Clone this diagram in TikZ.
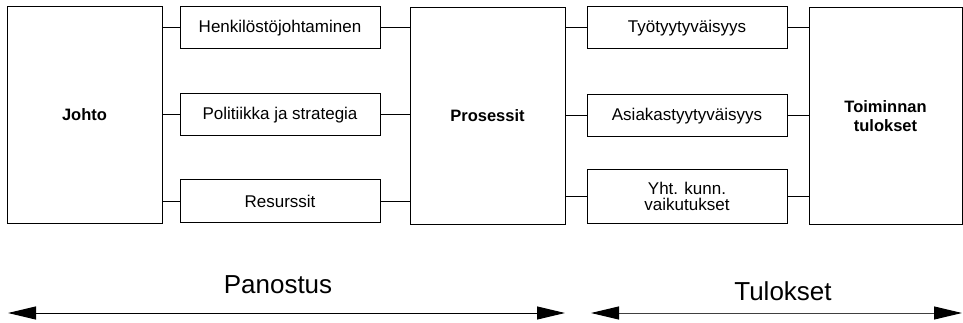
\documentclass[tikz,border=0pt]{standalone}
\usepackage{fontspec}
\setmainfont{Liberation Sans}
\usetikzlibrary{arrows.meta}
\begin{document}
\begin{tikzpicture}[x=1pt,y=-1pt,
  box/.style={draw, line width=1pt, fill=white, align=center, inner sep=0pt,
    font=\fontsize{17}{16}\selectfont},
  bigbox/.style={box, minimum width=155pt, minimum height=216pt,
    font=\fontsize{16.5}{19}\selectfont\bfseries},
  smallbox/.style={box, minimum width=200pt, minimum height=42pt},
  link/.style={line width=1pt},
  span/.style={line width=1pt,
    {Triangle[length=28pt,width=13pt,color=black]}-{Triangle[length=28pt,width=13pt,color=black]}},
  spanlabel/.style={anchor=base, inner sep=0pt, font=\fontsize{26}{28}\selectfont}
]
\useasboundingbox (0,0) rectangle (963,323);

% main blocks
\node[bigbox] (johto) at (84.5,115) {Johto};
\node[bigbox] (proc)  at (487.5,116) {Prosessit};
\node[bigbox, minimum width=153pt] (tulos) at (885.5,116) {Toiminnan\\tulokset};

% enablers
\node[smallbox] (henk) at (280,28)  {Henkilöstöjohtaminen};
\node[smallbox] (pol)  at (280,115) {Politiikka ja strategia};
\node[smallbox] (res)  at (280,201) {Resurssit};

% results
\node[smallbox] (tyo)  at (687,28)    {Työtyytyväisyys};
\node[smallbox] (asi)  at (687,116)   {Asiakastyytyväisyys};
\node[smallbox, minimum height=53pt] (yht) at (687,196.5) {Yht. kunn.\\vaikutukset};

% connectors
\foreach \n in {henk,pol,res}{
  \draw[link] (johto.east |- \n.west) -- (\n.west);
  \draw[link] (\n.east) -- (proc.west |- \n.east);
}
\foreach \n in {tyo,asi,yht}{
  \draw[link] (proc.east |- \n.west) -- (\n.west);
  \draw[link] (\n.east) -- (tulos.west |- \n.east);
}

% spans
\coordinate (pl) at (8,313);
\coordinate (pr) at (565,313);
\coordinate (tl) at (591,313);
\coordinate (tr) at (962,313);
\draw[span] (pl) -- (pr);
\draw[span, draw=black!75] (tl) -- (tr);
\node[spanlabel] (panostus) at (278,293) {Panostus};
\node[spanlabel] (tulokset) at (783,300) {Tulokset};
\end{tikzpicture}
\end{document}
